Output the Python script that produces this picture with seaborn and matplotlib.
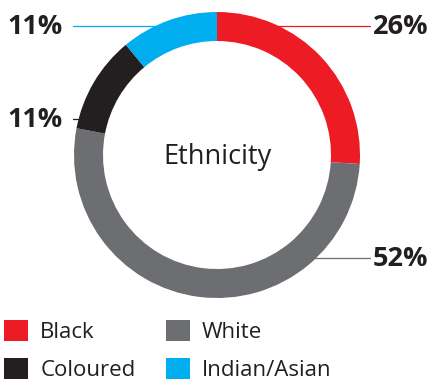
import matplotlib
matplotlib.use("Agg")
import matplotlib.pyplot as plt
from matplotlib.patches import Patch
import seaborn as sns

# Ethnicity breakdown (percent)
groups = ["Black", "White", "Coloured", "Indian/Asian"]
shares = [26, 52, 11, 11]
palette = ["#ED1C24", "#6D6E71", "#231F20", "#00AEEF"]
title = "Ethnicity"

sns.set_theme(style="white")
plt.rcParams["font.family"] = ["Open Sans", "DejaVu Sans"]

W, H = 431, 380
fig = plt.figure(figsize=(W / 100, H / 100), dpi=100)
ax = fig.add_axes([0, 0, 1, 1])

cx, cy, R, ring = 217, 155, 143, 29
colors = sns.color_palette(palette)
wedges, _ = ax.pie(shares, colors=colors, startangle=-90, counterclock=True,
                   radius=R, center=(cx, cy),
                   wedgeprops=dict(width=ring, linewidth=0))
ax.set_xlim(0, W)
ax.set_ylim(H, 0)
ax.set_aspect("auto")
ax.axis("off")

ax.text(cx + 1, 164, title, ha="center", va="baseline", fontsize=19.5, color="#231F20")

# Value callouts: (group index, y of leader line, side)
callouts = [(0, 26, "right"), (1, 258, "right"), (2, 119, "left"), (3, 26, "left")]
for i, y, side in callouts:
    dx = (R ** 2 - (cy - y) ** 2) ** 0.5
    label = f"{shares[i]}%"
    if side == "right":
        ax.plot([cx + dx - 2, 370], [y, y], color=colors[i], lw=0.9)
        ax.text(373, y + 8, label, ha="left", va="baseline", fontsize=19.5,
                fontweight="bold", color="#231F20")
    else:
        ax.plot([73, cx - dx + 2], [y, y], color=colors[i], lw=0.9)
        ax.text(63, y + 8, label, ha="right", va="baseline", fontsize=19.5,
                fontweight="bold", color="#231F20")

order = [0, 2, 1, 3]
handles = [Patch(facecolor=colors[i], edgecolor="none") for i in order]
ax.legend(handles, [groups[i] for i in order], ncol=2, frameon=False,
          loc="upper left", bbox_to_anchor=(4 / W, 1 - 320 / H),
          bbox_transform=ax.transAxes, borderpad=0, borderaxespad=0,
          fontsize=16, handlelength=1.08, handleheight=1.08,
          handletextpad=0.55, columnspacing=1.37, labelspacing=0.66,
          labelcolor="#231F20")

fig.savefig("out.png", dpi=100)
